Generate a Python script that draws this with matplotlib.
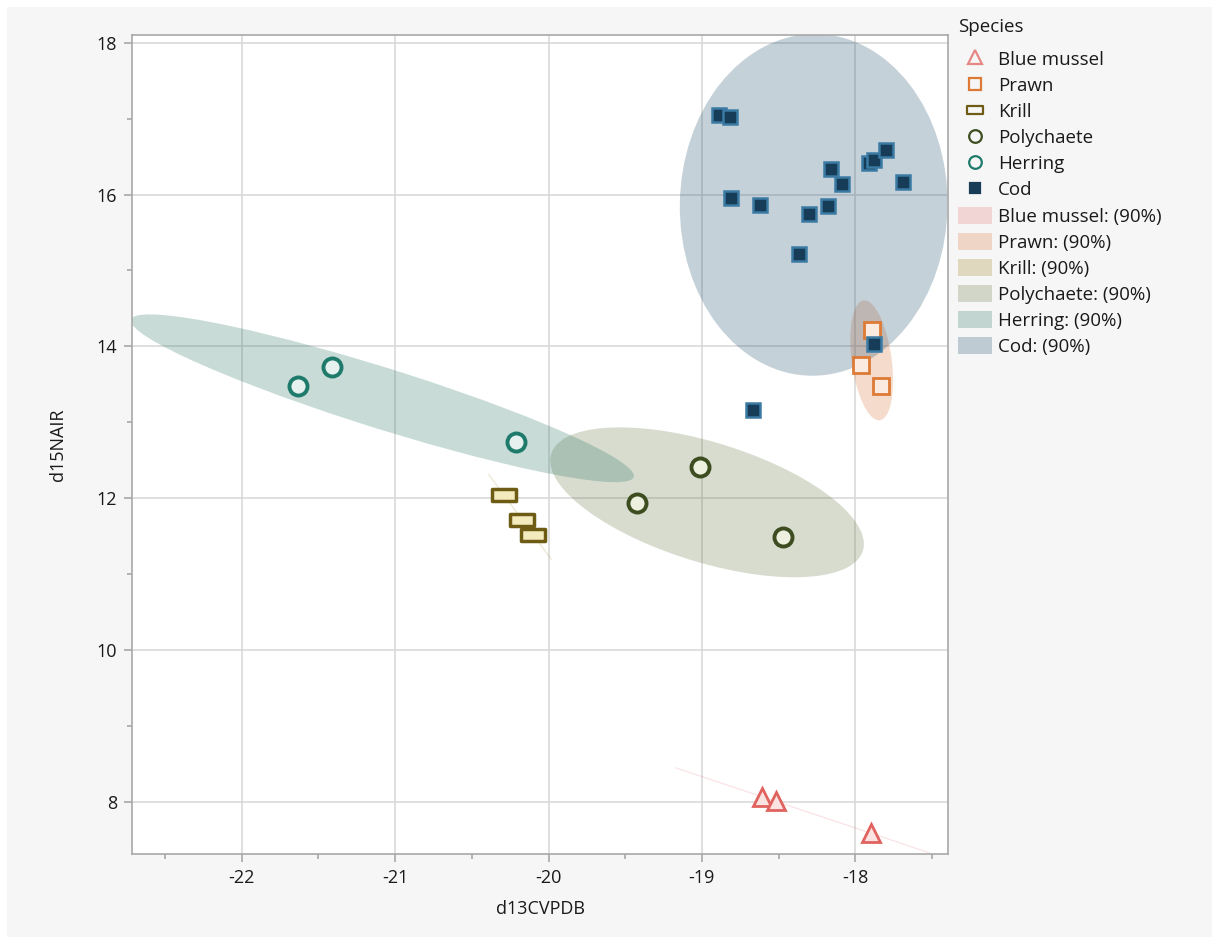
import numpy as np
import matplotlib
matplotlib.use("Agg")
import matplotlib.pyplot as plt
from matplotlib.patches import Ellipse, Patch, Rectangle
from matplotlib.lines import Line2D
from matplotlib.path import Path
from matplotlib.ticker import MultipleLocator, FuncFormatter

plt.rcParams['font.family'] = ['Open Sans', 'DejaVu Sans']

# data (d13C VPDB, d15N AIR)
species = ["Blue mussel", "Prawn", "Krill", "Polychaete", "Herring", "Cod"]

mussel_x = [-18.61, -18.52, -17.90]
mussel_y = [8.07, 8.01, 7.59]

prawn_x = [-17.89, -17.96, -17.83]
prawn_y = [14.21, 13.76, 13.48]

krill_x = [-20.29, -20.17, -20.10]
krill_y = [12.04, 11.71, 11.52]

poly_x = [-19.42, -19.01, -18.47]
poly_y = [11.94, 12.41, 11.49]

herring_x = [-21.63, -21.41, -20.21]
herring_y = [13.48, 13.73, 12.74]

cod_x = [-18.89, -18.82, -18.16, -18.09, -17.91, -17.88, -17.80, -17.69,
         -18.81, -18.62, -18.30, -18.18, -18.37, -17.88, -18.67]
cod_y = [17.05, 17.02, 16.33, 16.14, 16.41, 16.45, 16.58, 16.17,
         15.95, 15.86, 15.74, 15.85, 15.22, 14.03, 13.16]

# colours
ell_cols = ["#e37373", "#db7333", "#9b7f17", "#637743", "#277363", "#1b4b6b"]
edge_cols = ["#e0635f", "#dd7a36", "#6e5c14", "#3d4d20", "#1e7a6b", "#3a7aa3"]
face_cols = ["#fbe3e1", "#fbeadf", "#f3ebbd", "#edf0df", "#e4f1ee", "#173c58"]

# krill marker is a wide rectangle
krill_marker = Path([(-1, -0.5), (1, -0.5), (1, 0.5), (-1, 0.5), (-1, -0.5)],
                    [Path.MOVETO, Path.LINETO, Path.LINETO, Path.LINETO, Path.CLOSEPOLY])
markers = ["^", "s", krill_marker, "o", "o", "s"]
msizes = [13.5, 11.5, 17, 13, 13, 10.5]
mews = [2.0, 2.0, 2.5, 2.8, 2.8, 1.8]

xs = [mussel_x, prawn_x, krill_x, poly_x, herring_x, cod_x]
ys = [mussel_y, prawn_y, krill_y, poly_y, herring_y, cod_y]


def density_ellipse(x, y, p=0.90):
    # bivariate normal density ellipse
    x = np.asarray(x)
    y = np.asarray(y)
    cov = np.cov(x, y)
    vals, vecs = np.linalg.eigh(cov)
    k = np.sqrt(-2 * np.log(1 - p))
    angle = np.degrees(np.arctan2(vecs[1, 1], vecs[0, 1]))
    w = 2 * k * np.sqrt(vals[1])
    h = 2 * k * np.sqrt(max(vals[0], 0))
    return (x.mean(), y.mean()), w, h, angle


fig = plt.figure(figsize=(12.12, 9.49), dpi=100, facecolor="white")
fig.patches.append(Rectangle((7 / 1212, 12 / 949), 1, 930 / 949, transform=fig.transFigure,
                             facecolor="#f6f6f6", edgecolor="none", zorder=-5))
ax = fig.add_axes([0.1092, 0.1001, 0.6732, 0.8627])
ax.set_facecolor("white")

for i in range(len(species)):
    c, w, h, a = density_ellipse(xs[i], ys[i])
    # nearly flat ellipses still show as a faint line
    lw = 0.7 if h / w < 0.05 else 0
    e = Ellipse(c, w, h, angle=a, facecolor=ell_cols[i], edgecolor=ell_cols[i],
                linewidth=lw, alpha=0.25 if lw == 0 else 0.15, zorder=1)
    ax.add_patch(e)

for i in range(len(species)):
    ax.plot(xs[i], ys[i], linestyle="none", marker=markers[i], markersize=msizes[i],
            markerfacecolor=face_cols[i], markeredgecolor=edge_cols[i],
            markeredgewidth=mews[i], zorder=3 + i)

ax.set_xlim(-22.713, -17.394)
ax.set_ylim(7.315, 18.097)
ax.xaxis.set_major_locator(MultipleLocator(1))
ax.xaxis.set_minor_locator(MultipleLocator(0.5))
ax.yaxis.set_major_locator(MultipleLocator(2))
ax.yaxis.set_minor_locator(MultipleLocator(1))
ax.grid(True, which="major", color="#d6d6d6", linewidth=1.1)
ax.set_axisbelow(True)
for s in ax.spines.values():
    s.set_color("#a8a8a8")
    s.set_linewidth(1.2)
ax.tick_params(which="major", length=6, width=1.1, color="#a0a0a0", labelsize=13,
               labelcolor="#1a1a1a", pad=5)
ax.tick_params(which="minor", length=3.5, width=1.1, color="#a0a0a0")
ax.xaxis.set_major_formatter(FuncFormatter(lambda v, p: "%d" % v))
ax.yaxis.set_major_formatter(FuncFormatter(lambda v, p: "%d" % v))
ax.set_xlabel("d13CVPDB", fontsize=13, color="#1a1a1a", labelpad=9)
ax.set_ylabel("d15NAIR", fontsize=13, color="#1a1a1a", labelpad=21)

# legend
fig.text(958 / 1212, 1 - 27 / 949, "Species", fontsize=13.5, color="#1a1a1a",
         ha="left", va="center")
handles = []
for i in range(len(species)):
    handles.append(Line2D([], [], linestyle="none", marker=markers[i],
                          markersize=msizes[i] * 0.7,
                          markerfacecolor=face_cols[i] if i == 5 else "none",
                          markeredgecolor=edge_cols[i] if i != 5 else face_cols[i],
                          markeredgewidth=1.6, alpha=0.75 if i == 0 else 1.0))
for i in range(len(species)):
    handles.append(Patch(facecolor=ell_cols[i], alpha=0.25, edgecolor="none"))
labels = species + [s + ": (90%)" for s in species]

leg = fig.legend(handles, labels, loc="upper left", bbox_to_anchor=(958 / 1212, 1 - 50 / 949),
                 frameon=False, fontsize=13.5, borderpad=0, borderaxespad=0,
                 handlelength=1.8, handleheight=1.0, handletextpad=0.35, labelspacing=0.39)
for t in leg.get_texts():
    t.set_color("#1a1a1a")

fig.savefig("out.png", dpi=100, facecolor=fig.get_facecolor())
